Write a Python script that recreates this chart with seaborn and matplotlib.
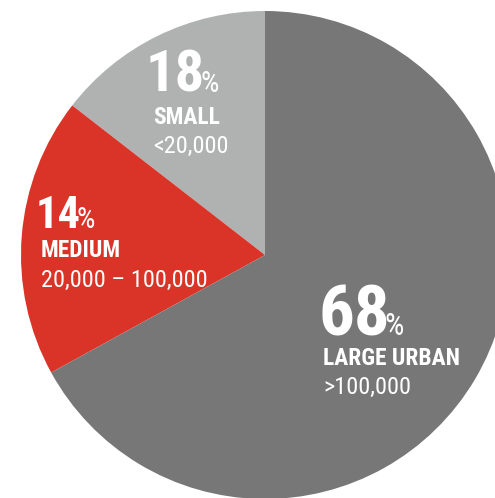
import matplotlib
matplotlib.use("Agg")
import matplotlib.pyplot as plt
from matplotlib import font_manager
import seaborn as sns

# ---- data ----
categories = ["SMALL", "MEDIUM", "LARGE URBAN"]
ranges = ["<20,000", "20,000 \u2013 100,000", ">100,000"]
label_pct = [18, 14, 68]            # printed values
wedge_share = [14.5, 18.5, 67.0]    # wedge sizes as drawn in the picture
colors = ["#b0b1b1", "#da3428", "#777777"]

sns.set_theme(style="white")

avail = {f.name for f in font_manager.fontManager.ttflist}
cond = next((f for f in ["Roboto Condensed", "Liberation Sans Narrow", "Roboto", "Liberation Sans"]
             if f in avail), "DejaVu Sans")
plt.rcParams["font.family"] = [cond, "DejaVu Sans"]

W, H = 495, 498
fig = plt.figure(figsize=(W / 100, H / 100), dpi=100)
ax = fig.add_axes([0, 0, 1, 1])
cx, cy, r = 265, 255, 244

ax.pie(wedge_share, colors=colors, startangle=90, counterclock=True,
       radius=1, center=(0, 0), wedgeprops=dict(linewidth=0), frame=False)
ax.set_xlim(-cx / r, (W - cx) / r)
ax.set_ylim(-(H - cy) / r, cy / r)
ax.set_aspect("auto")
ax.axis("off")


def px(x, y):
    return x / W, 1 - y / H


# label layout: (num_x, num_baseline, num_size, pct_size, name_x, name_base, range_base)
layout = [
    (146, 92, 42, 21, 153, 124, 153),
    (36, 228, 32, 21, 41, 257, 287),
    (318, 335, 51, 22, 323, 365, 394),
]

renderer = fig.canvas.get_renderer()
for i, (nx, nb, ns, ps, lx, lb, rb) in enumerate(layout):
    t = fig.text(*px(nx, nb), f"{label_pct[i]}", color="white", fontsize=ns,
                 fontweight="bold", ha="left", va="baseline")
    bb = t.get_window_extent(renderer=renderer)
    fig.text((bb.x1 - 5) / W, 1 - nb / H, "%", color="white", fontsize=ps,
             ha="left", va="baseline")
    fig.text(*px(lx, lb), categories[i], color="white", fontsize=16.8,
             fontweight="bold", ha="left", va="baseline")
    fig.text(*px(lx, rb), ranges[i], color="white", fontsize=17.5,
             ha="left", va="baseline")

fig.savefig("out.png", dpi=100, facecolor="white")
